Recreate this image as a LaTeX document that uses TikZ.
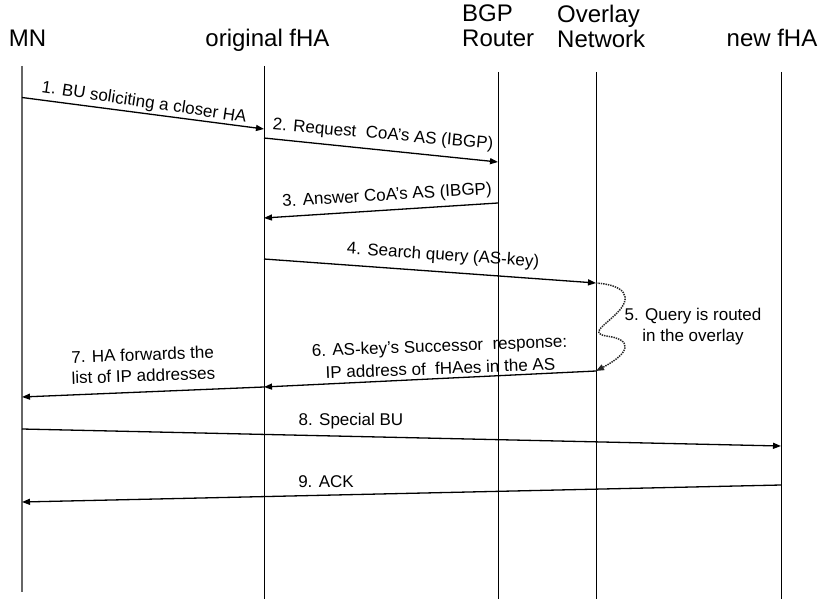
\documentclass[tikz,border=0pt]{standalone}
\usepackage{fontspec}
\setmainfont{Liberation Sans}
\usetikzlibrary{arrows.meta}
\begin{document}
\begin{tikzpicture}[x=1pt,y=-1pt,
  hdr/.style={font=\fontsize{24}{25}\selectfont, inner sep=0pt},
  lbl/.style={font=\fontsize{17}{21}\selectfont, inner sep=0pt, align=center},
  life/.style={line width=0.8pt, black},
  mnlife/.style={line width=1.2pt, black!60},
  msg/.style={line width=1.3pt, -{Triangle[length=8pt,width=6pt]}},
  route/.style={line width=1.5pt, black!85, dash pattern=on 1.4pt off 1pt, -{Triangle[length=8pt,width=6pt]}}]
\useasboundingbox (0,0) rectangle (821,599);
\fill[white] (0,0) rectangle (821,599);
% headers
\node[hdr, anchor=base] (mn) at (27.5,46.5) {MN};
\node[hdr, anchor=base] (ofha) at (267.5,46.5) {original fHA};
\node[hdr, anchor=north west, align=left] (bgp) at (462,5) {BGP\\Router};
\node[hdr, anchor=north west, align=left] (ovl) at (557,5) {Overlay\\Network};
\node[hdr, anchor=base] (nfha) at (772,46.5) {new fHA};
% lifelines
\coordinate (mnT) at (22,66);   \coordinate (mnB) at (22,592);
\coordinate (ofT) at (264,66);  \coordinate (ofB) at (264,599);
\coordinate (bgT) at (498,72);  \coordinate (bgB) at (498,599);
\coordinate (ovT) at (596,72);  \coordinate (ovB) at (596,599);
\coordinate (nfT) at (781,72);  \coordinate (nfB) at (781,599);
\draw[mnlife] (mnT) -- (mnB);
\draw[life] (ofT) -- (ofB);
\draw[life] (bgT) -- (bgB);
\draw[life] (ovT) -- (ovB);
\draw[life] (nfT) -- (nfB);
% message end points
\coordinate (m1s) at (22,97.5);  \coordinate (m1e) at (264,129);
\coordinate (m2s) at (264,138);  \coordinate (m2e) at (498,162);
\coordinate (m3s) at (498,203);  \coordinate (m3e) at (264,218);
\coordinate (m4s) at (264,259);  \coordinate (m4e) at (596,283);
\coordinate (m6s) at (596,371);  \coordinate (m6e) at (264,387);
\coordinate (m7e) at (22,397);
\coordinate (m8s) at (22,429);   \coordinate (m8e) at (781,446);
\coordinate (m9s) at (781,485);  \coordinate (m9e) at (22,502);
% messages
\draw[msg] (m1s) -- (m1e);
\draw[msg] (m2s) -- (m2e);
\draw[msg] (m3s) -- (m3e);
\draw[msg] (m4s) -- (m4e);
\draw[route] (m4e) .. controls (625,285) and (633,297) .. (617,313)
                   .. controls (603,327) and (590,333) .. (606,336)
                   .. controls (632,339) and (632,352) .. (m6s);
\draw[msg] (m6s) -- (m6e);
\draw[msg] (m6e) -- (m7e);
\draw[msg] (m8s) -- (m8e);
\draw[msg] (m9s) -- (m9e);
% labels
\node[lbl, rotate=-8.5] (l1) at (144,103) {1. BU soliciting a closer HA};
\node[lbl, rotate=-5] (l2) at (383,135) {2. Request\ \ CoA's AS (IBGP)};
\node[lbl, rotate=3.5] (l3) at (387,196) {3. Answer CoA's AS (IBGP)};
\node[lbl, rotate=-4] (l4) at (443,256) {4. Search query (AS-key)};
\node[lbl] (l5) at (693,327) {5. Query is routed\\in the overlay};
\node[lbl, rotate=2.2] (l6) at (440,357) {6. AS-key's Successor\ \ response:\\[1.5pt]IP address of\ \ fHAes in the AS};
\node[lbl, rotate=2] (l7) at (143,365) {7. HA forwards the\\list of IP addresses};
\node[lbl] (l8) at (351,421) {8. Special BU};
\node[lbl] (l9) at (326,482) {9. ACK};
\end{tikzpicture}
\end{document}
